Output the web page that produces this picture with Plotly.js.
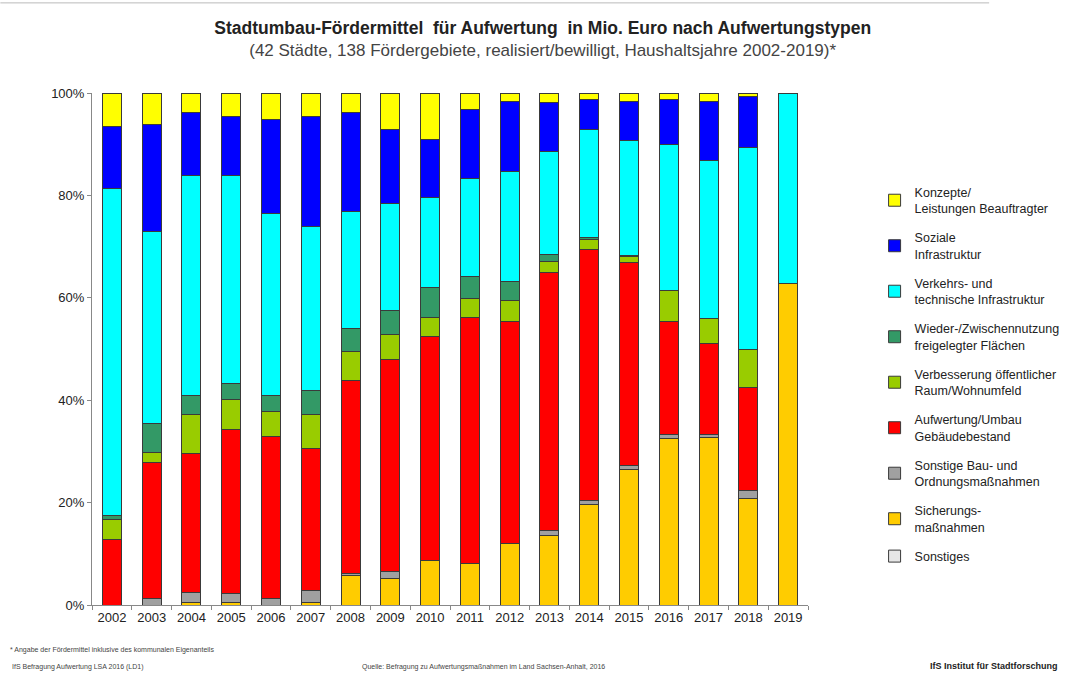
<!DOCTYPE html>
<html>
<head>
<meta charset="utf-8">
<script src="https://cdn.plot.ly/plotly-3.0.1.min.js"></script>
<style>html,body{margin:0;padding:0;background:#fff;}#chart{width:1081px;height:673px;}</style>
</head>
<body>
<div id="chart"></div>
<script>
const years = ['2002','2003','2004','2005','2006','2007','2008','2009','2010','2011','2012','2013','2014','2015','2016','2017','2018','2019'];
const sonstiges     = [0,0,0,0,0,0,0,0,0,0,0,0,0,0,0,0,0,0];
const sicherung     = [0,0,0.5,0.5,0,0.5,5.7,5.1,8.6,8.1,12.0,13.5,19.7,26.5,32.6,32.7,20.8,62.8];
const sonstigeBau   = [0,1.2,1.9,1.8,1.2,2.4,0.5,1.4,0,0,0,1.0,0.7,0.7,0.7,0.6,1.5,0];
const aufwertung    = [12.7,26.6,27.2,31.9,31.7,27.6,37.6,41.4,43.8,48.0,43.3,50.4,49.1,39.7,22.0,17.8,20.1,0];
const verbesserung  = [4.0,2.0,7.7,6.0,4.9,6.8,5.8,5.0,3.7,3.8,4.1,2.2,1.8,1.1,6.2,4.9,7.5,0];
const wieder        = [0.7,5.7,3.7,3.0,3.2,4.6,4.5,4.7,5.9,4.2,3.8,1.3,0.4,0.2,0,0,0,0];
const verkehr       = [63.9,37.5,42.8,40.6,35.4,32.0,22.7,20.9,17.6,19.2,21.4,20.1,21.2,22.5,28.5,30.9,39.4,37.2];
const soziale       = [12.1,20.9,12.4,11.7,18.5,21.5,19.4,14.4,11.3,13.4,13.8,9.6,5.9,7.7,8.8,11.5,10.0,0];
const konzepte      = [6.6,6.1,3.8,4.5,5.1,4.6,3.8,7.1,9.1,3.3,1.6,1.9,1.2,1.6,1.2,1.6,0.7,0];

const yTickVals   = [0,20,40,60,80,100];
const yTickLabels = ['0%','20%','40%','60%','80%','100%'];

const seriesNames = [
  'Sonstiges',
  'Sicherungs-<br>maßnahmen',
  'Sonstige Bau- und<br>Ordnungsmaßnahmen',
  'Aufwertung/Umbau<br>Gebäudebestand',
  'Verbesserung öffentlicher<br>Raum/Wohnumfeld',
  'Wieder-/Zwischennutzung<br>freigelegter Flächen',
  'Verkehrs- und<br>technische Infrastruktur',
  'Soziale<br>Infrastruktur',
  'Konzepte/<br>Leistungen Beauftragter'
];
const seriesValues = [sonstiges, sicherung, sonstigeBau, aufwertung, verbesserung, wieder, verkehr, soziale, konzepte];
const seriesColors = ['#e6e6e6','#ffcc00','#a0a0a0','#ff0000','#99cc00','#339966','#00ffff','#0000ff','#ffff00'];

const traces = seriesNames.map((n,i)=>({
  type:'bar',
  name:n,
  x:years,
  y:seriesValues[i].map(v=> v===0 ? null : v),
  marker:{color:seriesColors[i], line:{color:'#3a3a3a', width:1}},
  legendgroup:'g'+i,
  legendrank:100-i,
  hoverinfo:'x+y+name'
}));

const layout = {
  width:1081, height:673,
  paper_bgcolor:'#ffffff', plot_bgcolor:'#ffffff',
  margin:{l:92, r:273, t:93, b:68, pad:0},
  barmode:'stack',
  bargap:0.52,
  font:{family:'Liberation Sans, Arial, sans-serif', color:'#222'},
  title:{
    text:'<b>Stadtumbau-Fördermittel  für Aufwertung  in Mio. Euro nach Aufwertungstypen</b><br><span style="font-size:17px;color:#444">(42 Städte, 138 Fördergebiete, realisiert/bewilligt, Haushaltsjahre 2002-2019)*</span>',
    xref:'container', x:0.502, xanchor:'center',
    yref:'container', y:0.95, yanchor:'top',
    font:{size:17.5, color:'#222', family:'Liberation Sans, Arial, sans-serif'}
  },
  xaxis:{
    type:'category',
    showline:true, linecolor:'#888', linewidth:1,
    ticks:'outside', ticklen:4, tickcolor:'#888', tickson:'boundaries',
    tickfont:{size:13, color:'#222'},
    showgrid:false, zeroline:false, fixedrange:true
  },
  yaxis:{
    range:[0,100],
    tickmode:'array',
    tickvals:yTickVals,
    ticktext:yTickLabels,
    showline:true, linecolor:'#888', linewidth:1,
    ticks:'outside', ticklen:4, tickcolor:'#888',
    tickfont:{size:13, color:'#222'},
    showgrid:false, zeroline:false, fixedrange:true
  },
  legend:{
    x:1.093, xanchor:'left', y:0.835, yanchor:'top',
    traceorder:'grouped',
    tracegroupgap:10,
    font:{size:12.5, color:'#222'},
    itemwidth:30,
    bgcolor:'rgba(0,0,0,0)'
  },
  annotations:[
    {text:'* Angabe der Fördermittel inklusive des kommunalen Eigenanteils', xref:'paper', yref:'paper', x:-0.118, y:-0.088, xanchor:'left', yanchor:'middle', showarrow:false, font:{size:7, color:'#444'}},
    {text:'IfS Befragung Aufwertung LSA 2016 (LD1)', xref:'paper', yref:'paper', x:-0.115, y:-0.121, xanchor:'left', yanchor:'middle', showarrow:false, font:{size:7, color:'#444'}},
    {text:'Quelle: Befragung zu Aufwertungsmaßnahmen im Land Sachsen-Anhalt, 2016', xref:'paper', yref:'paper', x:0.374, y:-0.121, xanchor:'left', yanchor:'middle', showarrow:false, font:{size:7, color:'#444'}},
    {text:'<b>IfS Institut für Stadtforschung</b>', xref:'paper', yref:'paper', x:1.352, y:-0.119, xanchor:'right', yanchor:'middle', showarrow:false, font:{size:9, color:'#222'}}
  ],
  shapes:[
    {type:'line', xref:'paper', yref:'paper', x0:-0.128, x1:1.253, y0:1.176, y1:1.176, line:{color:'#bbb', width:1}}
  ],
  showlegend:true
};

Plotly.newPlot('chart', traces, layout, {displayModeBar:false, staticPlot:true});
</script>
</body>
</html>
